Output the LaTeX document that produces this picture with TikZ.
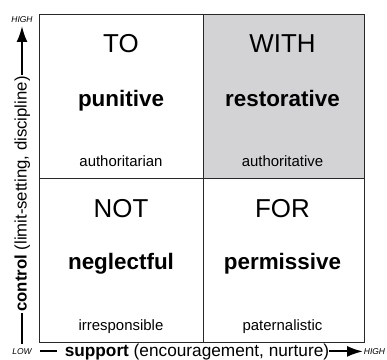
\documentclass[tikz,border=0pt]{standalone}
\usepackage{fontspec}
\setmainfont{Liberation Sans}
\usetikzlibrary{arrows.meta}
\definecolor{cellgray}{RGB}{211,211,213}
\definecolor{linegray}{RGB}{40,40,40}
\begin{document}
\begin{tikzpicture}[x=1bp,y=1bp,
  cell/.style={draw=linegray, line width=1bp, inner sep=0, anchor=south west},
  head/.style={font=\fontsize{26}{26}\selectfont, anchor=base, inner sep=0},
  kind/.style={font=\fontsize{22.5}{22.5}\selectfont\bfseries, anchor=base, inner sep=0},
  note/.style={font=\fontsize{15}{15}\selectfont, anchor=base, inner sep=0},
  axis/.style={font=\fontsize{17.3}{17.3}\selectfont, inner sep=0},
  vaxis/.style={font=\fontsize{16.8}{16.8}\selectfont, inner sep=0},
  tag/.style={font=\fontsize{8.5}{8.5}\selectfont\itshape, inner sep=0},
  axline/.style={line width=2bp},
  axarrow/.style={line width=2bp, -{Latex[length=16bp,width=11bp]}}
]
\useasboundingbox (0,0) rectangle (387,360);
% cells
\node[cell, minimum width=163.2bp, minimum height=163.5bp] (celltl) at (39.3,181) {};
\node[cell, fill=cellgray, minimum width=161.8bp, minimum height=163.5bp] (celltr) at (202.5,181) {};
\node[cell, minimum width=163.2bp, minimum height=164.3bp] (cellbl) at (39.3,16.7) {};
\node[cell, minimum width=161.8bp, minimum height=164.3bp] (cellbr) at (202.5,16.7) {};
% texts
\node[head] (to) at (121,308) {TO};
\node[kind] (punitive) at (121,254) {punitive};
\node[note] (authoritarian) at (121,193.3) {authoritarian};
\node[head] (with) at (282.5,308) {WITH};
\node[kind] (restorative) at (282.5,254) {restorative};
\node[note] (authoritative) at (282.5,193.3) {authoritative};
\node[head] (not) at (121,143) {NOT};
\node[kind] (neglectful) at (121,90.5) {neglectful};
\node[note] (irresponsible) at (121,29.8) {irresponsible};
\node[head] (for) at (282.5,143) {FOR};
\node[kind] (permissive) at (282.5,90.5) {permissive};
\node[note] (paternalistic) at (282.5,29.8) {paternalistic};
% horizontal axis
\node[axis, anchor=base] (support) at (197,3.8) {\textbf{support} (encouragement, nurture)};
\coordinate (hstart) at (40,8.6);
\coordinate (htip) at (363,8.6);
\draw[axline, shorten >=8bp] (hstart) -- (hstart -| support.west);
\draw[axarrow] (support.east |- htip) -- (htip);
% vertical axis
\node[vaxis, rotate=90, anchor=base] (control) at (26.5,166) {\textbf{control} (limit-setting, discipline)};
\coordinate (vstart) at (22,16);
\coordinate (vtip) at (22,334);
\draw[axline, shorten >=1bp] (vstart) -- (vstart |- control.west);
\draw[axarrow, shorten <=1bp] (vstart |- control.east) -- (vtip);
% tags
\node[tag] (lowtag) at (22,8.4) {LOW};
\node[tag] (hightop) at (22,340) {HIGH};
\node[tag] (highright) at (374.5,8.4) {HIGH};
\end{tikzpicture}
\end{document}
